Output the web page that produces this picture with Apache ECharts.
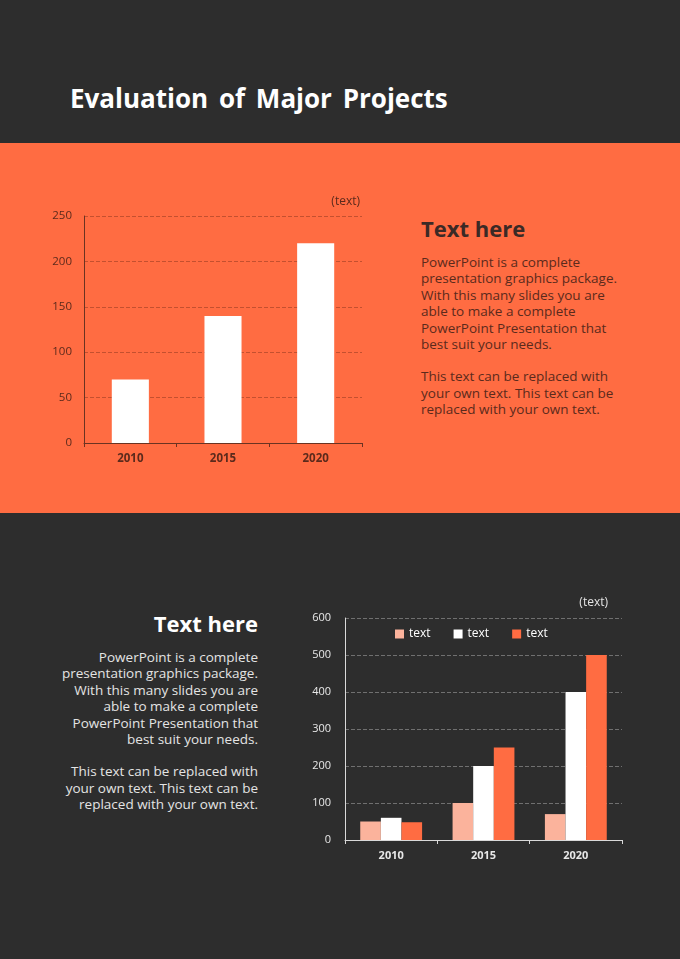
<!DOCTYPE html>
<html lang="en">

<head>
  <meta charset="UTF-8">
  <title>Evaluation of Major Projects</title>
  <script src="https://cdn.jsdelivr.net/npm/echarts@6/dist/echarts.min.js"></script>
  <style>
    html, body { margin: 0; padding: 0; }
    body { width: 680px; height: 959px; background: #2d2d2d; position: relative; overflow: hidden; font-family: "Open Sans", "Noto Sans", sans-serif; }
    .title { position: absolute; left: 70px; top: 80px; color: #fff; font-size: 26px; font-weight: bold; word-spacing: 4px; }
    .band { position: absolute; left: 0; top: 143px; width: 680px; height: 370px; background: #ff6c42; }
    .box { position: absolute; font-size: 13.5px; line-height: 16.4px; white-space: nowrap; }
    .box h2 { margin: 0 0 12px 0; font-size: 22px; line-height: 28px; font-weight: bold; }
    .box p { margin: 0 0 16px 0; }
    #box1 { left: 421px; top: 214px; color: #5b2a1c; }
    #box1 h2 { color: #3b2a26; }
    #box2 { right: 422px; top: 609px; color: #e4e4e4; text-align: right; }
    #box2 h2 { color: #fff; }
  </style>
</head>

<body>
  <div class="title">Evaluation of Major Projects</div>
  <div class="band"></div>
  <div id="chart1" style="position:absolute;left:0;top:143px;width:400px;height:370px;"></div>
  <div class="box" id="box1">
    <h2>Text here</h2>
    <p>PowerPoint is a complete<br>presentation graphics package.<br>With this many slides you are<br>able to make a complete<br>PowerPoint Presentation that<br>best suit your needs.</p>
    <p>This text can be replaced with<br>your own text. This text can be<br>replaced with your own text.</p>
  </div>
  <div class="box" id="box2">
    <h2>Text here</h2>
    <p>PowerPoint is a complete<br>presentation graphics package.<br>With this many slides you are<br>able to make a complete<br>PowerPoint Presentation that<br>best suit your needs.</p>
    <p>This text can be replaced with<br>your own text. This text can be<br>replaced with your own text.</p>
  </div>
  <div id="chart2" style="position:absolute;left:300px;top:580px;width:380px;height:300px;"></div>
  <script>
    var years = ['2010', '2015', '2020'];
    var projectValues = [70, 140, 220];
    var seriesNames = ['text', 'text', 'text'];
    var seriesA = [50, 100, 70];
    var seriesB = [60, 200, 400];
    var seriesC = [48, 250, 500];

    var font = '"Open Sans", "Noto Sans", sans-serif';

    // 상단 막대 차트
    var chart1 = echarts.init(document.getElementById('chart1'));
    chart1.setOption({
      animation: false,
      textStyle: { fontFamily: font },
      grid: { left: 84, top: 73, width: 278, height: 227 },
      graphic: [{
        type: 'text', right: 40, top: 53,
        style: { text: '(text)', fill: '#5b2a1c', fontSize: 12, fontFamily: font }
      }],
      xAxis: {
        type: 'category',
        data: years,
        axisLine: { lineStyle: { color: '#6a3322' } },
        axisTick: { show: true, length: 4, lineStyle: { color: '#6a3322' } },
        axisLabel: { color: '#5b2a1c', fontWeight: 'bold', fontSize: 11.5, margin: 10 }
      },
      yAxis: {
        type: 'value',
        min: 0, max: 250, interval: 50,
        axisLine: { show: true, lineStyle: { color: '#6a3322' } },
        axisTick: { show: false },
        axisLabel: { color: '#5b2a1c', fontSize: 11.5, margin: 12 },
        splitLine: { lineStyle: { color: '#c4502f', type: 'dashed' } }
      },
      series: [{
        type: 'bar',
        data: projectValues,
        barCategoryGap: '60%',
        itemStyle: { color: '#ffffff' }
      }]
    });

    // 하단 그룹 막대 차트
    var chart2 = echarts.init(document.getElementById('chart2'));
    chart2.setOption({
      animation: false,
      textStyle: { fontFamily: font },
      grid: { left: 45, top: 38, width: 277, height: 222 },
      graphic: [{
        type: 'text', right: 72, top: 17,
        style: { text: '(text)', fill: '#e4e4e4', fontSize: 12, fontFamily: font }
      }],
      legend: {
        top: 43, left: 90,
        itemWidth: 9, itemHeight: 9, itemGap: 23,
        icon: 'rect',
        textStyle: { color: '#ffffff', fontSize: 12 },
        data: [
          { name: 'a', itemStyle: { color: '#fbb39c' } },
          { name: 'b', itemStyle: { color: '#ffffff' } },
          { name: 'c', itemStyle: { color: '#ff6c42' } }
        ],
        formatter: function (n) { return seriesNames[['a', 'b', 'c'].indexOf(n)]; }
      },
      xAxis: {
        type: 'category',
        data: years,
        axisLine: { lineStyle: { color: '#d9d9d9' } },
        axisTick: { show: true, length: 4, lineStyle: { color: '#d9d9d9' } },
        axisLabel: { color: '#e8e8e8', fontWeight: 'bold', fontSize: 11, margin: 10 }
      },
      yAxis: {
        type: 'value',
        min: 0, max: 600, interval: 100,
        axisLine: { show: true, lineStyle: { color: '#d9d9d9' } },
        axisTick: { show: false },
        axisLabel: { color: '#e8e8e8', fontSize: 11, margin: 14 },
        splitLine: { lineStyle: { color: '#707070', type: 'dashed' } }
      },
      series: [
        { name: 'a', type: 'bar', data: seriesA, barGap: '0%', barCategoryGap: '33%', itemStyle: { color: '#fbb39c' } },
        { name: 'b', type: 'bar', data: seriesB, barGap: '0%', barCategoryGap: '33%', itemStyle: { color: '#ffffff' } },
        { name: 'c', type: 'bar', data: seriesC, barGap: '0%', barCategoryGap: '33%', itemStyle: { color: '#ff6c42' } }
      ]
    });
  </script>
</body>

</html>
